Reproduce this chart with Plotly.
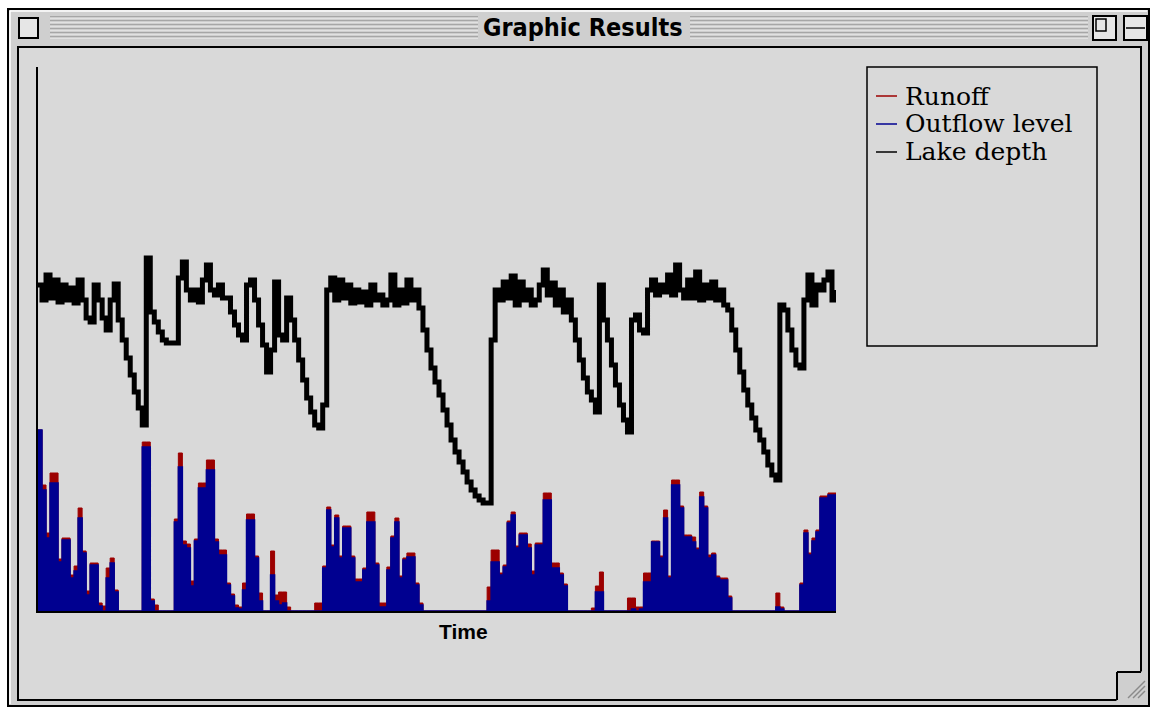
import plotly.graph_objects as go

# time steps of the simulation
steps = list(range(200))

lake_depth = [
    326, 311, 336, 313, 331, 309, 326, 311, 323, 308,
    331, 311, 293, 289, 326, 311, 293, 281, 311, 327,
    291, 271, 253, 236, 219, 203, 186, 353, 299, 289,
    279, 271, 268, 268, 268, 333, 349, 321, 311, 321,
    309, 331, 346, 321, 316, 326, 313, 313, 299, 286,
    276, 271, 326, 331, 311, 286, 266, 239, 261, 329,
    276, 271, 313, 291, 271, 251, 231, 213, 199, 186,
    183, 206, 321, 333, 311, 331, 313, 326, 308, 321,
    309, 319, 306, 326, 311, 316, 306, 311, 336, 306,
    321, 308, 331, 311, 321, 303, 281, 261, 243, 229,
    216, 201, 186, 171, 159, 149, 139, 129, 121, 115,
    111, 108, 108, 271, 321, 311, 329, 313, 335, 306,
    329, 311, 321, 306, 311, 326, 341, 316, 328, 306,
    321, 299, 311, 291, 271, 251, 233, 219, 211, 199,
    326, 291, 271, 246, 226, 206, 191, 179, 291, 296,
    281, 278, 321, 331, 316, 326, 319, 336, 316, 346,
    321, 313, 331, 313, 339, 311, 326, 313, 329, 311,
    321, 306, 301, 281, 261, 239, 221, 206, 193, 181,
    171, 159, 146, 136, 131, 306, 301, 281, 261, 246,
    243, 311, 336, 306, 326, 321, 331, 339, 311, 321,
]

runoff = [
    181, 126, 78, 138, 138, 52, 73, 73, 36, 45,
    103, 60, 20, 48, 48, 8, 5, 43, 53, 21,
    0, 0, 0, 0, 0, 0, 169, 169, 12, 6,
    0, 0, 0, 0, 92, 158, 70, 67, 30, 72,
    128, 128, 151, 151, 72, 61, 61, 28, 17, 6,
    4, 28, 97, 97, 55, 18, 0, 0, 60, 16,
    19, 19, 4, 0, 0, 0, 0, 0, 0, 8,
    8, 45, 104, 66, 96, 55, 85, 85, 55, 32,
    32, 43, 99, 99, 48, 8, 8, 44, 75, 93,
    35, 53, 58, 58, 28, 8, 0, 0, 0, 0,
    0, 0, 0, 0, 0, 0, 0, 0, 0, 0,
    0, 0, 24, 61, 61, 38, 46, 90, 99, 65,
    78, 78, 67, 40, 68, 68, 118, 118, 48, 48,
    38, 27, 0, 0, 0, 0, 0, 0, 3, 25,
    39, 0, 0, 0, 0, 0, 0, 13, 13, 4,
    4, 38, 38, 70, 70, 55, 101, 35, 131, 131,
    105, 76, 76, 74, 63, 119, 105, 56, 58, 35,
    33, 33, 15, 0, 0, 0, 0, 0, 0, 0,
    0, 0, 0, 0, 18, 4, 0, 0, 0, 0,
    28, 81, 58, 73, 81, 115, 115, 118, 118, 75,
]

outflow = [
    181, 121, 73, 128, 128, 49, 71, 71, 33, 40,
    93, 58, 16, 46, 46, 5, 0, 33, 48, 19,
    0, 0, 0, 0, 0, 0, 164, 164, 10, 0,
    0, 0, 0, 0, 89, 144, 66, 63, 25, 70,
    123, 123, 141, 141, 69, 56, 56, 26, 15, 3,
    2, 21, 91, 91, 53, 10, 0, 0, 36, 10,
    6, 8, 0, 0, 0, 0, 0, 0, 0, 0,
    0, 43, 101, 64, 93, 53, 83, 83, 53, 29,
    29, 41, 89, 89, 46, 4, 4, 41, 73, 89,
    33, 51, 54, 54, 26, 6, 0, 0, 0, 0,
    0, 0, 0, 0, 0, 0, 0, 0, 0, 0,
    0, 0, 10, 49, 49, 36, 44, 88, 96, 63,
    76, 76, 63, 36, 66, 66, 111, 111, 43, 43,
    36, 25, 0, 0, 0, 0, 0, 0, 0, 19,
    19, 0, 0, 0, 0, 0, 0, 0, 2, 0,
    2, 29, 29, 69, 69, 53, 93, 33, 126, 126,
    103, 74, 74, 69, 61, 114, 103, 53, 56, 33,
    31, 31, 13, 0, 0, 0, 0, 0, 0, 0,
    0, 0, 0, 0, 4, 2, 0, 0, 0, 0,
    26, 78, 56, 70, 79, 113, 113, 116, 116, 73,
]

legend_names = ["Runoff", "Outflow level", "Lake depth"]

W, H = 1153, 715
RED = "#9c0000"
BLUE = "#000090"
FRAME = "#cfcfcf"
CONTENT = "#d9d9d9"


def fx(x):
    return x / W


def fy(y):
    return 1 - y / H


def rect(x0, y0, x1, y1, fill=None, line="black", width=1.5):
    return dict(type="rect", xref="paper", yref="paper", layer="below",
                x0=fx(x0), x1=fx(x1), y0=fy(y1), y1=fy(y0),
                fillcolor=fill if fill else "rgba(0,0,0,0)",
                line=dict(color=line, width=width))


def seg(x0, y0, x1, y1, color="black", width=1):
    return dict(type="line", xref="paper", yref="paper", layer="below",
                x0=fx(x0), x1=fx(x1), y0=fy(y0), y1=fy(y1),
                line=dict(color=color, width=width))


fig = go.Figure()
fig.add_trace(go.Scatter(
    x=steps, y=runoff, name=legend_names[0], mode="lines",
    line=dict(color=RED, width=1, shape="hv"),
    fill="tozeroy", fillcolor=RED, showlegend=False,
))
fig.add_trace(go.Scatter(
    x=steps, y=outflow, name=legend_names[1], mode="lines",
    line=dict(color=BLUE, width=1.5, shape="hv"),
    fill="tozeroy", fillcolor=BLUE, showlegend=False,
))
fig.add_trace(go.Scatter(
    x=steps, y=lake_depth, name=legend_names[2], mode="lines",
    line=dict(color="black", width=5, shape="hv"), showlegend=False,
))

# window chrome
shapes = [
    rect(8, 9, 1149, 706, fill=FRAME, width=2),
    seg(10, 11, 1147, 11, color="white", width=1.5),
    seg(10, 11, 10, 704, color="white", width=1.5),
    rect(18, 47, 1141, 700, fill=CONTENT, width=2),
    rect(1117, 672, 1143, 702, fill=FRAME, line=FRAME, width=1),
    seg(1117, 672, 1141, 672, width=2),
    seg(1117, 672, 1117, 700, width=2),
]
for k in range(3):
    shapes.append(seg(1128 + 5 * k, 698, 1145, 681 + 5 * k, color="#8a8a8a", width=1.5))
for yy in range(17, 40, 4):
    for xa, xb in [(50, 478), (690, 1088)]:
        shapes.append(seg(xa, yy, xb, yy, color="#7c7c7c", width=1))
        shapes.append(seg(xa, yy + 1, xb, yy + 1, color="#f4f4f4", width=1))
shapes += [
    rect(19, 18, 38, 38, fill="#e6e6e6", width=2),
    rect(1093, 16, 1116, 40, fill="#e6e6e6", width=2),
    rect(1096, 19, 1106, 31, width=1.5),
    rect(1124, 16, 1147, 40, fill="#e6e6e6", width=2),
    seg(1126, 28, 1145, 28, width=1.5),
    rect(867, 67, 1097, 346, width=1.5),
]

annotations = [
    dict(x=fx(463), y=fy(631), xref="paper", yref="paper",
         xanchor="center", yanchor="middle",
         text="<b>Time</b>", showarrow=False,
         font=dict(family="Liberation Sans, Arial", size=21, color="black")),
    dict(x=fx(583), y=fy(28), xref="paper", yref="paper",
         xanchor="center", yanchor="middle",
         text="<b>Graphic Results</b>", showarrow=False,
         font=dict(family="Liberation Sans Narrow, DejaVu Sans Condensed, Arial",
                   size=25, color="black")),
]

# hand-drawn legend inside the box
for k, (name, col) in enumerate(zip(legend_names, [RED, BLUE, "black"])):
    row = 96 + 28 * k
    shapes.append(seg(876, row, 897, row, color=col, width=1.5))
    annotations.append(dict(
        x=fx(903), y=fy(row), xref="paper", yref="paper",
        xanchor="left", yanchor="middle", text=name, showarrow=False,
        font=dict(family="DejaVu Serif", size=25, color="black"),
    ))

fig.update_layout(
    width=W, height=H,
    margin=dict(l=0, r=0, t=0, b=0),
    paper_bgcolor="white",
    plot_bgcolor="rgba(0,0,0,0)",
    shapes=shapes,
    annotations=annotations,
    showlegend=False,
    xaxis=dict(
        domain=[fx(38), fx(836)], range=[0, 199],
        showgrid=False, zeroline=False, showticklabels=False, ticks="",
        showline=True, linecolor="black", linewidth=2,
    ),
    yaxis=dict(
        domain=[fy(611), fy(67)], range=[0, 544],
        showgrid=False, zeroline=False, showticklabels=False, ticks="",
        showline=True, linecolor="black", linewidth=2,
    ),
)

# drop the default page margin so the figure fills the window exactly
fig.write_html(
    "out.html",
    config={"displayModeBar": False},
    post_script="document.body.style.margin='0';document.body.style.overflow='hidden';",
)
